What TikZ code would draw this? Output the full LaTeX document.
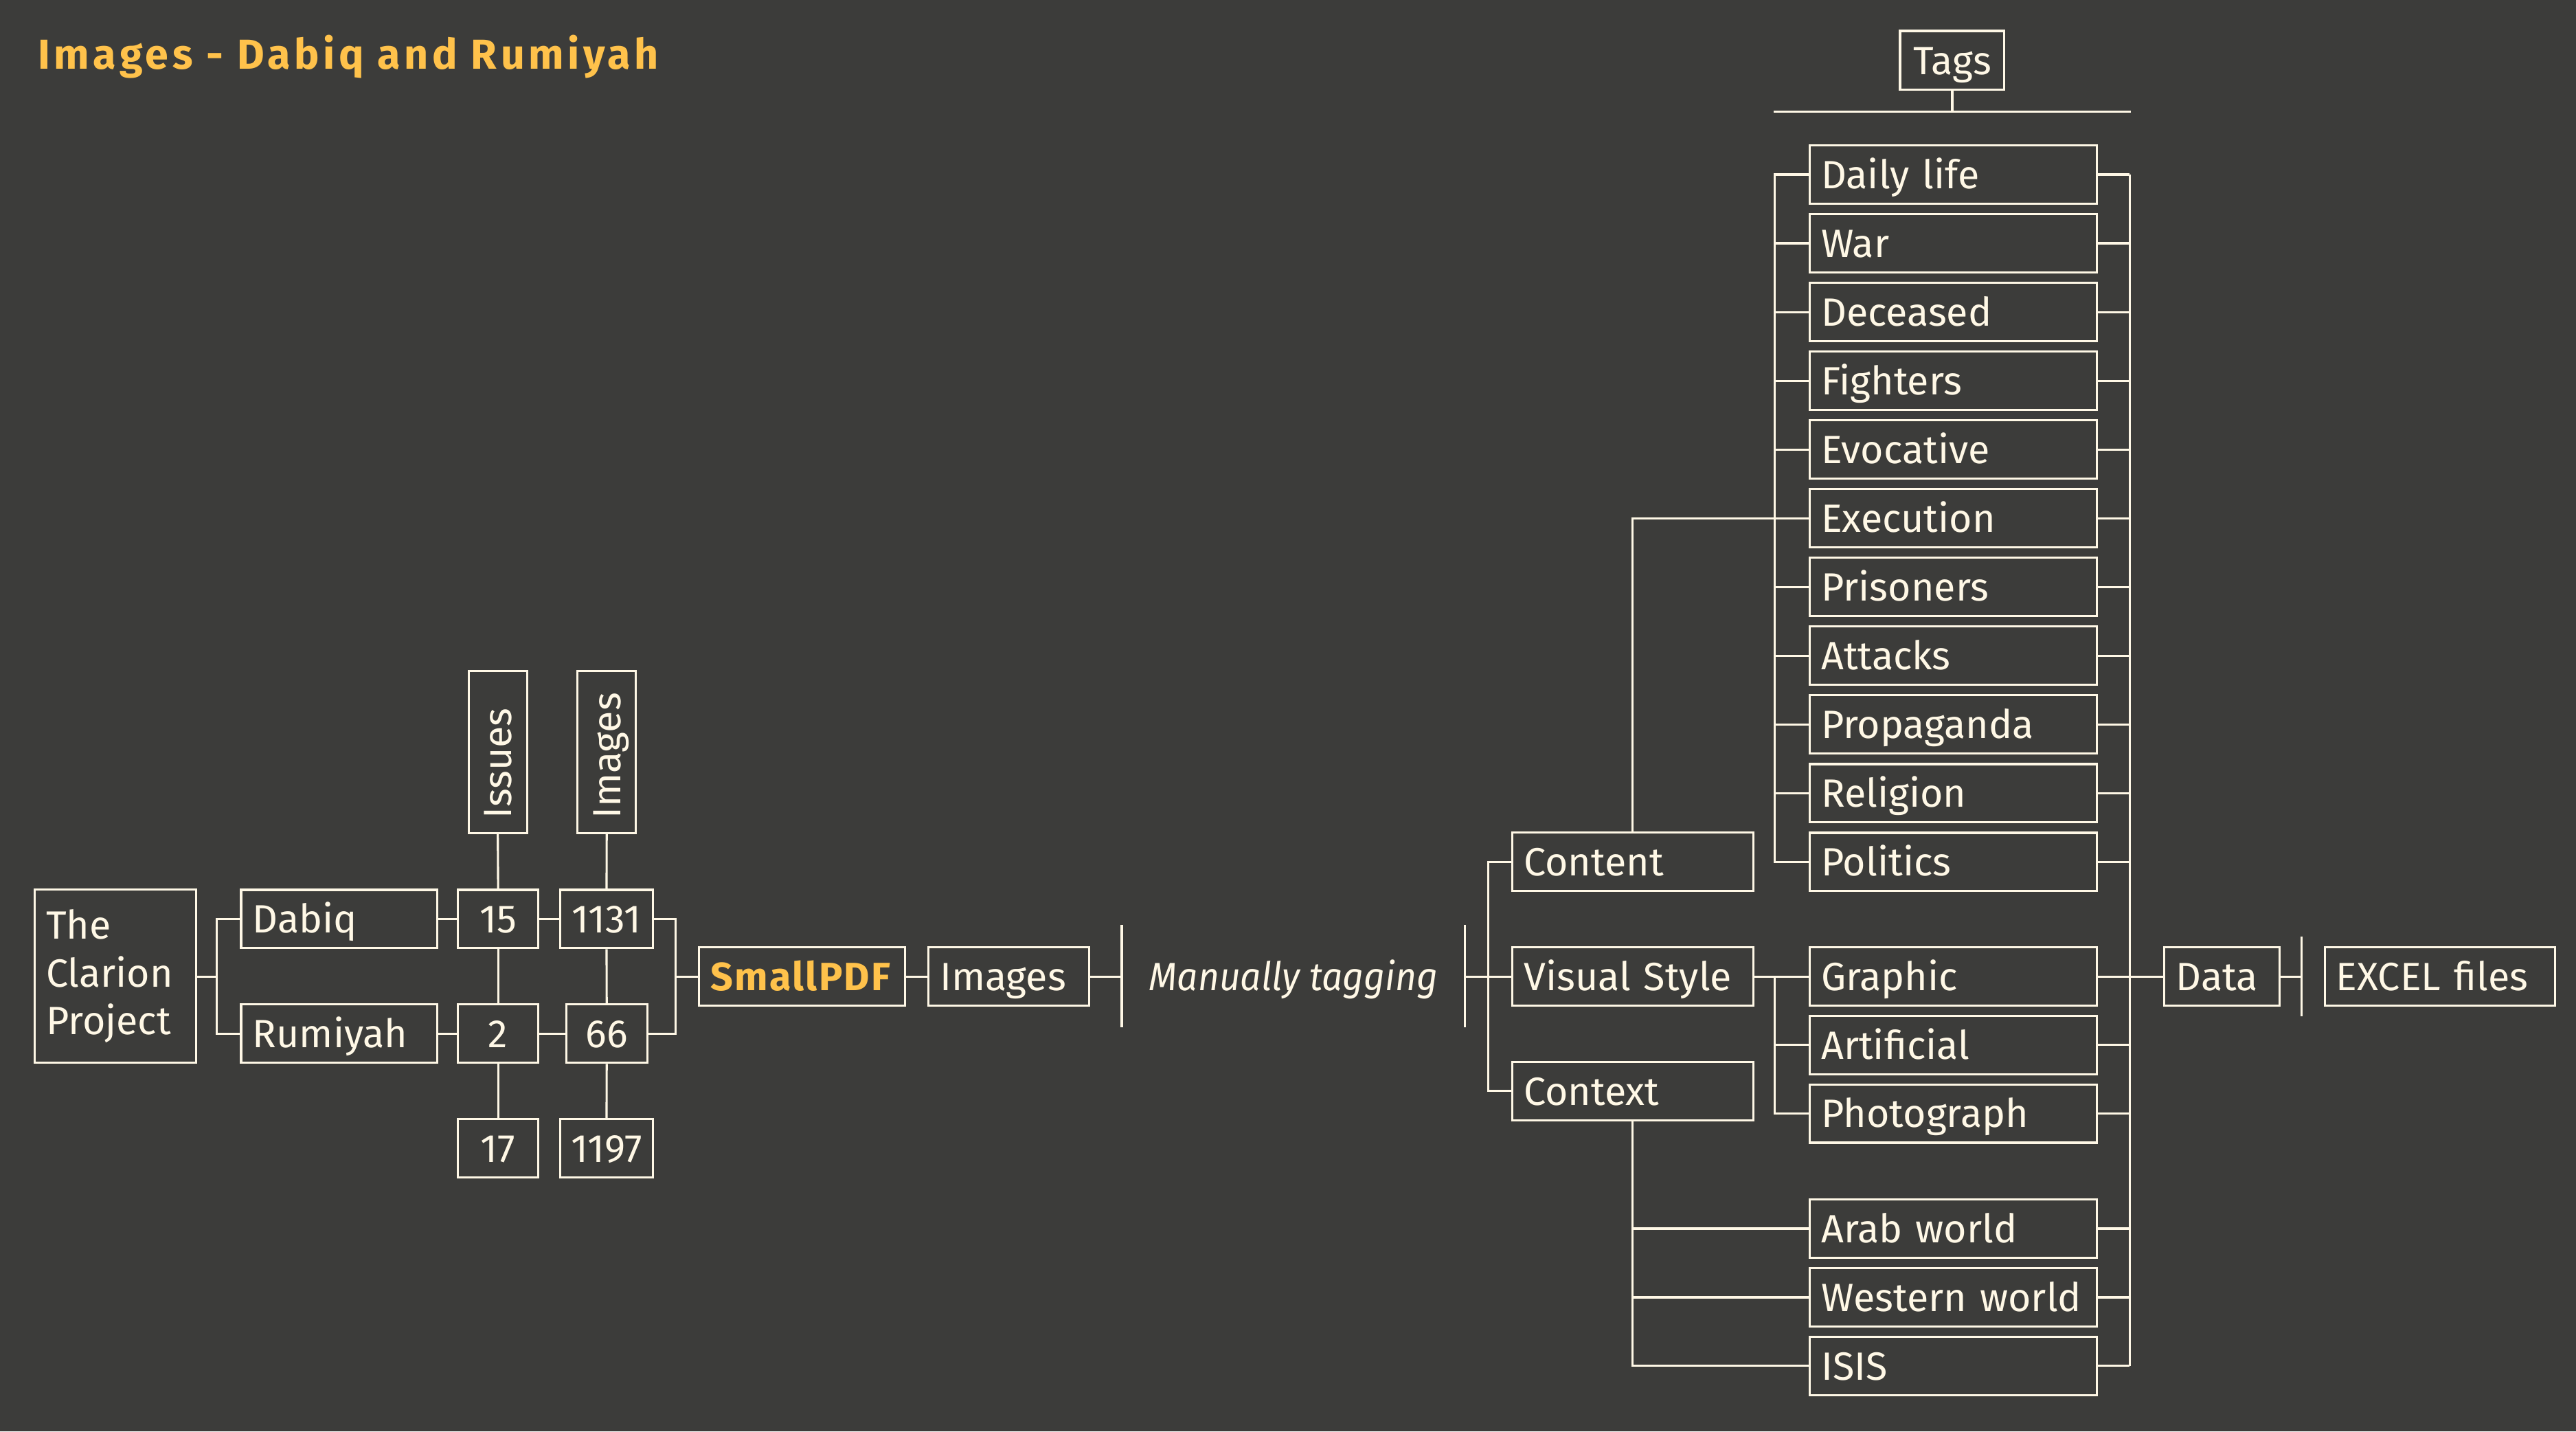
\documentclass[tikz,border=0pt]{standalone}
\usepackage{fontspec}
\setmainfont{Fira Sans}
\newfontfamily\titlefam{Fira Sans}[LetterSpace=9]
\newfontfamily\pdffam{Fira Sans}[LetterSpace=4]
\newfontfamily\manfam{Fira Sans}[FakeStretch=0.93]
\definecolor{bg}{HTML}{3C3C3A}
\definecolor{cream}{HTML}{FFF8E6}
\definecolor{gold}{HTML}{FFC24B}
\newcommand{\fsz}{\fontsize{24}{29.2}\selectfont}
\begin{document}
\begin{tikzpicture}[x=1pt,y=-1pt,
  box/.style={draw=cream, line width=1.3pt, minimum height=35.5, inner ysep=0, text height=20, text depth=3, font=\fsz, text=cream},
  lbox/.style={box, anchor=west, align=left, inner xsep=7},
  cbox/.style={box, inner xsep=0, align=center},
  vbox/.style={box, rotate=90, anchor=west, align=left, inner xsep=8.5, text width=81.5, minimum height=35.5},
  tagbox/.style={lbox, text width=160.6},
  link/.style={draw=cream, line width=1.3pt}
]
\fill[bg] (0,0) rectangle (1568,871);
\useasboundingbox (0,0) rectangle (1568,871);

% title
\node[anchor=base west, inner sep=0, text=gold, font=\fontsize{25.5}{30}\selectfont\titlefam\bfseries] (title) at (23,42.2) {Images - Dabiq and Rumiyah};

% left part
\node[box, anchor=west, align=left, inner xsep=7, text width=84.3, minimum height=105.6, text height=, text depth=] (clarion) at (20.5,594) {\raisebox{4pt}{\parbox{84.3pt}{The\\Clarion\\Project}}};
\node[lbox, text width=105.4] (dabiq) at (146.1,559.2) {Dabiq};
\node[lbox, text width=105.4] (rumiyah) at (146.1,629) {Rumiyah};
\node[cbox, minimum width=49] (n15) at (303.2,559.2) {15};
\node[cbox, minimum width=49] (n2) at (303.2,629) {2};
\node[cbox, minimum width=49] (n17) at (303.2,698.8) {17};
\node[cbox, minimum width=56.6] (n1131) at (369.2,559.2) {1131};
\node[cbox, minimum width=49.3] (n66) at (369.3,629) {66};
\node[cbox, minimum width=56.6] (n1197) at (369.2,698.8) {1197};
\node[vbox] (issues) at (303,507.5) {Issues};
\node[vbox] (imgs) at (369.3,507.5) {Images};

\coordinate (brA) at (132,594.3);
\draw[link] (clarion.east |- brA) -- (brA);
\draw[link] (dabiq.west) -| (brA) |- (rumiyah.west);
\draw[link] (dabiq.east) -- (n15.west);
\draw[link] (n15.east) -- (n1131.west);
\draw[link] (rumiyah.east) -- (n2.west);
\draw[link] (n2.east) -- (n66.west);
\draw[link] (issues.west) -- (n15.north);
\draw[link] (n15.south) -- (n2.north);
\draw[link] (n2.south) -- (n17.north);
\draw[link] (imgs.west) -- (n1131.north);
\draw[link] (n1131.south) -- (n66.north);
\draw[link] (n66.south) -- (n1197.north);

\node[lbox, text width=111.6, text=gold, font=\fsz\pdffam\bfseries] (smallpdf) at (424.8,594.3) {SmallPDF};
\coordinate (brB) at (411.3,594.3);
\draw[link] (n1131.east) -| (brB) |- (n66.east);
\draw[link] (brB) -- (smallpdf.west);
\node[lbox, text width=83.8] (images) at (564.4,594.3) {Images};
\draw[link] (smallpdf.east) -- (images.west);

\coordinate (bar1) at (682.8,594.3);
\coordinate (bar1t) at (682.8,562.8);
\coordinate (bar1b) at (682.8,625.2);
\draw[link] (images.east) -- (bar1);
\draw[link] (bar1t) -- (bar1b);
\node[inner sep=0, text=cream, font=\fsz\manfam\itshape, text height=20, text depth=3] (manual) at (787.3,594.3) {Manually tagging};
\coordinate (bar2) at (891.8,594.3);
\coordinate (bar2t) at (891.8,562.8);
\coordinate (bar2b) at (891.8,625.2);
\draw[link] (bar2t) -- (bar2b);

% categories
\node[lbox, text width=132.7] (content) at (919.8,524.4) {Content};
\node[lbox, text width=132.7] (visual) at (919.8,594.3) {Visual Style};
\node[lbox, text width=132.7] (context) at (919.8,663.9) {Context};
\coordinate (brC) at (905.7,594.3);
\draw[link] (bar2) -- (visual.west);
\draw[link] (content.west) -| (brC) |- (context.west);

% tags
\node[cbox, minimum width=63.5, minimum height=35.8] (tagsh) at (1188.3,36.7) {Tags};
\coordinate (hl) at (1079.5,67.8);
\coordinate (hr) at (1297.1,67.8);
\draw[link] (hl) -- (hr);
\draw[link] (tagsh.south) -- (tagsh.south |- hl);

\node[tagbox] (t0) at (1100.9,106.2) {Daily life};
\node[tagbox] (t1) at (1100.9,148.0) {War};
\node[tagbox] (t2) at (1100.9,189.9) {Deceased};
\node[tagbox] (t3) at (1100.9,231.7) {Fighters};
\node[tagbox] (t4) at (1100.9,273.5) {Evocative};
\node[tagbox] (t5) at (1100.9,315.4) {Execution};
\node[tagbox] (t6) at (1100.9,357.2) {Prisoners};
\node[tagbox] (t7) at (1100.9,399.0) {Attacks};
\node[tagbox] (t8) at (1100.9,440.8) {Propaganda};
\node[tagbox] (t9) at (1100.9,482.7) {Religion};
\node[tagbox] (t10) at (1100.9,524.5) {Politics};
\node[tagbox] (graphic) at (1100.9,594.3) {Graphic};
\node[tagbox] (artificial) at (1100.9,635.9) {Artificial};
\node[tagbox] (photo) at (1100.9,677.6) {Photograph};
\node[tagbox] (arab) at (1100.9,747.6) {Arab world};
\node[tagbox] (western) at (1100.9,789.4) {Western world};
\node[tagbox] (isis) at (1100.9,831.1) {ISIS};

% left bracket of content tags
\coordinate (lb0) at (1080.1,106.2);
\coordinate (lb10) at (1080.1,524.5);
\draw[link] (t0.west) -- (lb0) -- (lb10) -- (t10.west);
\foreach \t in {t1,t2,t3,t4,t5,t6,t7,t8,t9}
  \draw[link] (\t.west) -- (\t.west -| lb0);
\draw[link] (content.north) |- (t5.west);

% visual style bracket
\coordinate (lv0) at (1080.1,594.3);
\draw[link] (visual.east) -- (graphic.west);
\draw[link] (graphic.west) -| (lv0) |- (photo.west);
\draw[link] (artificial.west) -- (artificial.west -| lv0);

% context links
\draw[link] (context.south) |- (isis.west);
\draw[link] (context.south |- arab.west) -- (arab.west);
\draw[link] (context.south |- western.west) -- (western.west);

% right bracket
\coordinate (rbt) at (1296.3,106.2);
\coordinate (rbb) at (1296.3,831.1);
\draw[link] (rbt) -- (rbb);
\foreach \t in {t0,t1,t2,t3,t4,t5,t6,t7,t8,t9,t10,graphic,artificial,photo,arab,western,isis}
  \draw[link] (\t.east) -- (\t.east -| rbt);

% data
\node[lbox, text width=56.2] (data) at (1316.8,594.3) {Data};
\draw[link] (graphic.east) -- (data.west);
\coordinate (bar3) at (1400.8,594.3);
\coordinate (bar3t) at (1400.8,569.8);
\coordinate (bar3b) at (1400.8,618.4);
\draw[link] (data.east) -- (bar3);
\draw[link] (bar3t) -- (bar3b);
\node[lbox, text width=126] (excel) at (1414.4,594.3) {EXCEL files};
\end{tikzpicture}
\end{document}
